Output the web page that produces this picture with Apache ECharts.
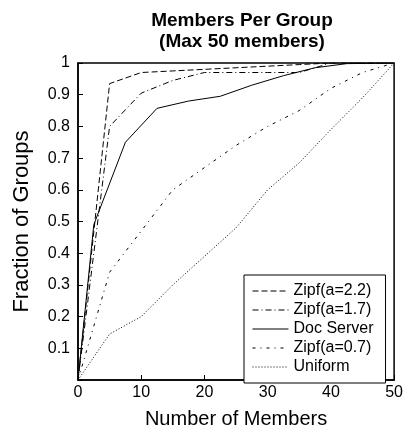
<!DOCTYPE html>
<html><head><meta charset="utf-8">
<script src="https://cdn.jsdelivr.net/npm/echarts@6/dist/echarts.min.js"></script>
<style>html,body{margin:0;padding:0;background:#fff}#c{width:406px;height:434px}</style>
</head><body><div id="c"></div>
<script>
const xs = [0, 5, 10, 15, 20, 25, 30, 35, 40, 45, 50];
const zipf22 = [0, 0.935, 0.97, 0.975, 0.98, 0.985, 0.99, 0.995, 1, 1, 1];
const zipf17 = [0, 0.80, 0.905, 0.945, 0.97, 0.97, 0.97, 0.97, 1, 1, 1];
const docX = [0, 2.5, 7.5, 12.5, 17.5, 22.5, 27.5, 32.5, 37.5, 42.5, 50];
const docServer = [0, 0.49, 0.75, 0.857, 0.88, 0.895, 0.93, 0.96, 0.985, 0.998, 1];
const zipf07 = [0, 0.34, 0.47, 0.6, 0.67, 0.74, 0.80, 0.85, 0.92, 0.97, 1];
const uniform = [0, 0.145, 0.2, 0.3, 0.39, 0.48, 0.6, 0.685, 0.79, 0.89, 1];
const names = ['Zipf(a=2.2)', 'Zipf(a=1.7)', 'Doc Server', 'Zipf(a=0.7)', 'Uniform'];
const xTicks = [0, 10, 20, 30, 40, 50];

const F = 'Liberation Sans, Arial, Helvetica, sans-serif';
function pairs(x, y){ return x.map((v,i)=>[v,y[i]]); }
function line(name, data, type){
  return {name, type:'line', data, symbol:'none', showSymbol:false, animation:false,
    lineStyle:{color:'#000', width:1, type}, itemStyle:{color:'#000'}};
}
const chart = echarts.init(document.getElementById('c'));
chart.setOption({
  animation:false,
  title:{text:'Members Per Group\n(Max 50 members)', left:237, top:5, textAlign:'center',
    textStyle:{fontFamily:F, fontSize:19, fontWeight:'bold', color:'#000', lineHeight:21}},
  grid:{left:78, right:10, top:63, bottom:54, show:true, borderColor:'#000', borderWidth:1.5},
  xAxis:{type:'value', min:0, max:50, interval:10, name:'Number of Members', nameLocation:'middle', nameGap:29,
    nameTextStyle:{fontFamily:F, fontSize:20, color:'#000'},
    axisLine:{lineStyle:{color:'#000', width:1.5}}, axisTick:{inside:true, length:5, lineStyle:{color:'#000'}},
    axisLabel:{fontFamily:F, fontSize:16, color:'#000', margin:5, formatter:v=>xTicks.includes(v)?String(v):''}, splitLine:{show:false}},
  yAxis:{type:'value', min:0, max:1, interval:0.1, name:'Fraction of Groups', nameLocation:'middle', nameGap:45,
    nameTextStyle:{fontFamily:F, fontSize:22, color:'#000'},
    axisLine:{lineStyle:{color:'#000', width:1.5}}, axisTick:{inside:true, length:5, lineStyle:{color:'#000'}},
    axisLabel:{fontFamily:F, fontSize:16, color:'#000', margin:8, formatter:v=>v===0?'':String(Math.round(v*10)/10)}, splitLine:{show:false}},
  legend:{orient:'vertical', left:244, top:275, width:144, data:names, itemWidth:36, itemHeight:14, itemGap:3,
    borderColor:'#000', borderWidth:1, padding:[8,12,8,8], backgroundColor:'#fff',
    itemStyle:{opacity:0}, lineStyle:{width:1},
    textStyle:{fontFamily:F, fontSize:16, color:'#000', padding:[0,0,0,0]}},
  series:[
    line(names[0], pairs(xs, zipf22), [6,3]),
    line(names[1], pairs(xs, zipf17), [6,3,1,3]),
    line(names[2], pairs(docX, docServer), 'solid'),
    line(names[3], pairs(xs, zipf07), [3,5,1,5]),
    line(names[4], pairs(xs, uniform), [1,2])
  ]
});
</script></body></html>
